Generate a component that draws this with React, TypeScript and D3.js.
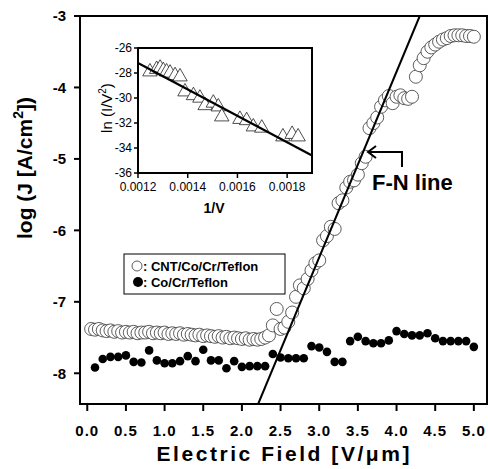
import React from 'react';
import * as d3 from 'd3';

// main plot: CNT/Co/Cr/Teflon (hollow circles)
const cntField = [
  0.05, 0.1, 0.15, 0.2, 0.25, 0.3, 0.35, 0.4, 0.45, 0.5, 0.55, 0.6, 0.65, 0.7, 0.75, 0.8, 0.85, 0.9, 0.95, 1.0,
  1.05, 1.1, 1.15, 1.2, 1.25, 1.3, 1.35, 1.4, 1.45, 1.5, 1.55, 1.6, 1.65, 1.7, 1.75, 1.8, 1.85, 1.9, 1.95, 2.0,
  2.05, 2.1, 2.15, 2.2, 2.25, 2.3, 2.35, 2.4, 2.45, 2.5, 2.55, 2.6, 2.65, 2.7, 2.75, 2.8, 2.85, 2.9, 2.95, 3.0,
  3.05, 3.1, 3.15, 3.2, 3.25, 3.3, 3.35, 3.4, 3.45, 3.5, 3.55, 3.6, 3.65, 3.7, 3.75, 3.8, 3.85, 3.9, 3.95, 4.0,
  4.05, 4.1, 4.15, 4.2, 4.25, 4.3, 4.35, 4.4, 4.45, 4.5, 4.55, 4.6, 4.65, 4.7, 4.75, 4.8, 4.85, 4.9, 4.95, 5.0,
];
const cntLogJ = [
  -7.38, -7.39, -7.38, -7.4, -7.41, -7.4, -7.42, -7.41, -7.43, -7.42, -7.43, -7.42, -7.44, -7.43, -7.43, -7.42, -7.44, -7.43, -7.44, -7.43,
  -7.45, -7.44, -7.45, -7.44, -7.46, -7.45, -7.46, -7.47, -7.46, -7.48, -7.47, -7.48, -7.49, -7.48, -7.5, -7.49, -7.51, -7.5, -7.51, -7.52,
  -7.51, -7.53, -7.52, -7.53, -7.52, -7.5, -7.47, -7.33, -7.1, -7.38, -7.36, -7.28, -7.15, -6.93, -6.77, -6.81, -6.68, -6.56, -6.46, -6.42,
  -6.14, -6.08, -5.95, -5.98, -5.62, -5.58, -5.4, -5.32, -5.3, -5.22, -5.06, -4.97, -4.57, -4.5, -4.42, -4.27, -4.18, -4.12, -4.22, -4.13,
  -4.11, -4.15, -4.16, -4.13, -3.85, -3.69, -3.59, -3.5, -3.44, -3.4, -3.36, -3.33, -3.31, -3.28, -3.27, -3.27, -3.27, -3.28, -3.28, -3.29,
];

// main plot: Co/Cr/Teflon (filled dots)
const coField = [
  0.1, 0.2, 0.3, 0.4, 0.5, 0.6, 0.7, 0.8, 0.9, 1.0, 1.1, 1.2, 1.3, 1.4, 1.5, 1.6, 1.7, 1.8, 1.9, 2.0,
  2.1, 2.2, 2.3, 2.4, 2.5, 2.6, 2.7, 2.8, 2.9, 3.0, 3.1, 3.2, 3.3, 3.4, 3.5, 3.6, 3.7, 3.8, 3.9, 4.0,
  4.1, 4.2, 4.3, 4.4, 4.5, 4.6, 4.7, 4.8, 4.9, 5.0,
];
const coLogJ = [
  -7.92, -7.8, -7.77, -7.77, -7.75, -7.84, -7.85, -7.68, -7.82, -7.86, -7.86, -7.83, -7.76, -7.83, -7.67, -7.82, -7.82, -7.93, -7.83, -7.91,
  -7.9, -7.9, -7.9, -7.73, -7.78, -7.79, -7.79, -7.79, -7.62, -7.64, -7.7, -7.84, -7.84, -7.55, -7.49, -7.55, -7.58, -7.58, -7.54, -7.41,
  -7.45, -7.47, -7.47, -7.44, -7.51, -7.55, -7.55, -7.55, -7.55, -7.63,
];

// F-N fit line (field, logJ)
const fnLineField = [2.21, 4.3];
const fnLineLogJ = [-8.43, -3.0];

// inset: F-N plot
const insetInvV = [
  0.001248, 0.001275, 0.001289, 0.001302, 0.001315, 0.001329, 0.001349, 0.001369, 0.001389, 0.001423, 0.001449,
  0.00147, 0.001503, 0.001523, 0.001537, 0.00161, 0.001637, 0.001664, 0.001698, 0.001783, 0.00182, 0.001844,
];
const insetLnIV2 = [
  -27.9, -27.7, -27.6, -27.8, -27.9, -28.0, -28.2, -28.3, -29.5, -29.8, -30.0,
  -30.6, -30.4, -30.7, -31.5, -31.7, -31.8, -32.3, -32.4, -33.1, -32.9, -33.1,
];
const insetFitInvV = [0.0012, 0.0019];
const insetFitLn = [-27.2, -34.6];

const xTicks = [0, 0.5, 1, 1.5, 2, 2.5, 3, 3.5, 4, 4.5, 5];
const yTicks = [-3, -4, -5, -6, -7, -8];
const insetXTicks = [0.0012, 0.0014, 0.0016, 0.0018];
const insetYTicks = [-26, -28, -30, -32, -34, -36];

const FONT = '"Liberation Sans", Arial, Helvetica, sans-serif';

const App = () => {
  const x = d3.scaleLinear().domain([-0.094, 5.17]).range([80, 487]);
  const y = d3.scaleLinear().domain([-8.43, -3]).range([404, 16]);
  const ix = d3.scaleLinear().domain([0.0012, 0.0019]).range([138, 312]);
  const iy = d3.scaleLinear().domain([-36, -26]).range([173, 48]);

  const fnLine = d3.line<number>().x((d, i) => x(fnLineField[i])).y(d => y(d))(fnLineLogJ);
  const insetFit = d3.line<number>().x((d, i) => ix(insetFitInvV[i])).y(d => iy(d))(insetFitLn);
  const tri = d3.symbol(d3.symbolTriangle, 90)();

  const [x0, x1] = x.range();
  const [y0, y1] = y.range();

  return (
    <div style={{ position: 'absolute', left: 0, top: 0 }}>
      <svg width={488} height={469} style={{ display: 'block', background: '#fff' }} fontFamily={FONT}>
        <defs>
          <clipPath id="plotClip">
            <rect x={x0} y={y1} width={x1 - x0} height={y0 - y1} />
          </clipPath>
        </defs>

        {/* hollow circles */}
        <g>
          {cntField.map((f, i) => (
            <circle key={i} cx={x(f)} cy={y(cntLogJ[i])} r={6.5} fill="#fff" stroke="#333" strokeWidth={0.8} />
          ))}
        </g>
        {/* filled dots */}
        <g>
          {coField.map((f, i) => (
            <circle key={i} cx={x(f)} cy={y(coLogJ[i])} r={4.3} fill="#000" />
          ))}
        </g>
        <path d={fnLine || ''} stroke="#000" strokeWidth={2} fill="none" clipPath="url(#plotClip)" />

        {/* frame */}
        <rect x={x0} y={y1} width={x1 - x0} height={y0 - y1} fill="none" stroke="#000" strokeWidth={2} />

        {/* x axis */}
        {xTicks.map(t => (
          <g key={t} transform={`translate(${x(t)},${y0})`}>
            <line y1={0} y2={7} stroke="#000" strokeWidth={2} />
            <text y={32} textAnchor="middle" fontSize={15} fontWeight="bold" letterSpacing={1}>
              {d3.format('.1f')(t)}
            </text>
          </g>
        ))}
        {/* y axis */}
        {yTicks.map(t => (
          <g key={t} transform={`translate(${x0},${y(t)})`}>
            <line x1={0} x2={-6} stroke="#000" strokeWidth={2} />
            <text x={-14} dy="0.35em" textAnchor="end" fontSize={15} fontWeight="bold">
              {t}
            </text>
          </g>
        ))}
        <text x={283} y={461} textAnchor="middle" fontSize={21} fontWeight="bold" textLength={253} lengthAdjust="spacing">
          Electric Field [V/μm]
        </text>
        <text transform="translate(32,168) rotate(-90)" textAnchor="middle" fontSize={21} fontWeight="bold">
          log (J [A/cm<tspan dy={-9} fontSize={14}>2</tspan><tspan dy={9}>])</tspan>
        </text>

        {/* F-N annotation */}
        <path d="M368,152 H402 V167" fill="none" stroke="#000" strokeWidth={2} />
        <path d="M376,146 L368,152 L376,158" fill="none" stroke="#000" strokeWidth={2} />
        <text x={372} y={190} fontSize={22} fontWeight="bold">F-N line</text>

        {/* legend */}
        <rect x={124} y={254} width={161} height={40} fill="#fff" stroke="#000" strokeWidth={1} />
        <circle cx={137} cy={266} r={5} fill="#fff" stroke="#333" strokeWidth={0.8} />
        <circle cx={138} cy={282} r={5} fill="#000" />
        <text x={143} y={271} fontSize={13} fontWeight="bold">: CNT/Co/Cr/Teflon</text>
        <text x={143} y={287} fontSize={13} fontWeight="bold">: Co/Cr/Teflon</text>

        {/* inset */}
        <g>
          {insetInvV.map((v, i) => (
            <path key={i} d={tri || ''} transform={`translate(${ix(v)},${iy(insetLnIV2[i])})`} fill="#fff" stroke="#222" strokeWidth={0.8} />
          ))}
          <path d={insetFit || ''} stroke="#000" strokeWidth={2.2} fill="none" />
          <rect x={138} y={48} width={174} height={125} fill="none" stroke="#000" strokeWidth={2} />
          {insetXTicks.map(t => (
            <g key={t} transform={`translate(${ix(t)},173)`}>
              <line y1={0} y2={5} stroke="#000" strokeWidth={1.5} />
              <text y={18} textAnchor="middle" fontSize={12}>{d3.format('.4f')(t)}</text>
            </g>
          ))}
          {insetYTicks.map(t => (
            <g key={t} transform={`translate(138,${iy(t)})`}>
              <line x1={0} x2={-4} stroke="#000" strokeWidth={1.5} />
              <text x={-6} dy="0.35em" textAnchor="end" fontSize={12}>{t}</text>
            </g>
          ))}
          <text x={214} y={213} textAnchor="middle" fontSize={14} fontWeight="bold">1/V</text>
          <text transform="translate(112,108) rotate(-90)" textAnchor="middle" fontSize={15}>
            ln (I/V<tspan dy={-6} fontSize={10}>2</tspan><tspan dy={6}>)</tspan>
          </text>
        </g>
      </svg>
    </div>
  );
};

export default App;
